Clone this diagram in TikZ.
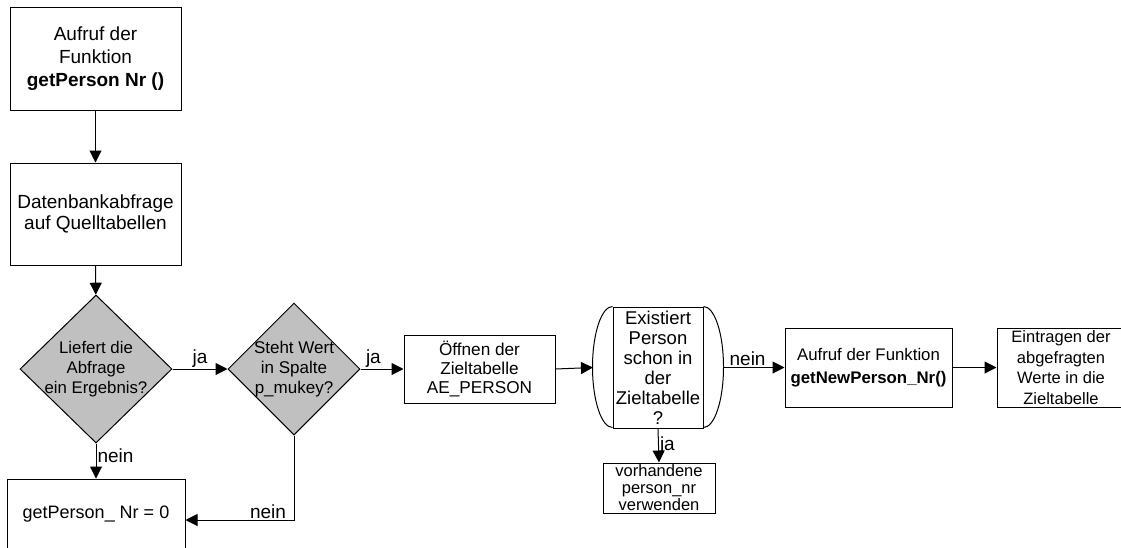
\documentclass[tikz,border=0pt]{standalone}
\usepackage{fontspec}
\setmainfont{Liberation Sans}
\usetikzlibrary{arrows.meta,shapes.geometric}
\definecolor{decgray}{RGB}{192,192,192}
\tikzset{
  base/.style={draw=black, line width=1pt, inner sep=0pt, align=center},
  box/.style={base, rectangle},
  dec/.style={base, diamond, fill=decgray},
  arr/.style={-{Triangle[length=12pt,width=12pt]}, line width=1pt},
  lbl/.style={font=\fontsize{19}{22}\selectfont, inner sep=1pt}
}
\begin{document}
\begin{tikzpicture}[x=1pt,y=-1pt]
\useasboundingbox (0,0) rectangle (1121,547);
\clip (0,0) rectangle (1121,547);
\node[box, minimum width=171pt, minimum height=103pt, font=\fontsize{19}{23}\selectfont] (start) at (95.5,58.5) {Aufruf der\\Funktion\\\textbf{getPerson Nr ()}};
\node[box, minimum width=171pt, minimum height=102pt, font=\fontsize{19}{21}\selectfont] (query) at (95.5,214) {Datenbankabfrage\\auf Quelltabellen};
\node[dec, minimum width=152pt, minimum height=148pt, label={[align=center, font=\fontsize{16.8}{20}\selectfont]center:Liefert die\\Abfrage\\ein Ergebnis?}] (d1) at (96,369) {};
\node[dec, minimum width=132pt, minimum height=132pt, label={[align=center, font=\fontsize{17}{20}\selectfont]center:Steht Wert\\in Spalte\\p\_mukey?}] (d2) at (294,369) {};
\node[box, minimum width=178pt, minimum height=82pt, label={[font=\fontsize{18}{21}\selectfont, yshift=6pt]center:getPerson\_ Nr = 0}] (zero) at (96,520) {};
\node[box, minimum width=151pt, minimum height=68pt, font=\fontsize{17.2}{19}\selectfont] (oeff) at (479.5,369) {Öffnen der\\Zieltabelle\\AE\_PERSON};
\node[box, minimum width=90pt, minimum height=121pt, font=\fontsize{18.5}{20}\selectfont] (cyl) at (658,367.5) {Existiert\\Person\\schon in\\der\\Zieltabelle\\?};
\draw[line width=1pt] (cyl.north west) arc[start angle=90, end angle=270, x radius=20pt, y radius=60.5pt];
\draw[line width=1pt] (cyl.north east) arc[start angle=90, end angle=-90, x radius=20pt, y radius=60.5pt];
\coordinate (cylL) at (593,367.5);
\coordinate (cylR) at (723,367.5);
\node[box, minimum width=112pt, minimum height=50pt, font=\fontsize{16.5}{17}\selectfont] (vorh) at (659,488) {vorhandene\\person\_nr\\verwenden};
\node[box, minimum width=167pt, minimum height=79pt, font=\fontsize{16.8}{23}\selectfont] (auf) at (868.5,367.5) {Aufruf der Funktion\\\textbf{getNewPerson\_Nr()}};
\node[box, minimum width=143pt, minimum height=79pt, label={[align=center, font=\fontsize{16.5}{20.5}\selectfont, xshift=-7.5pt]center:Eintragen der\\abgefragten\\Werte in die\\Zieltabelle}] (ein) at (1068.5,367.5) {};
\draw[arr] (start) -- (query);
\draw[arr] (query) -- (d1);
\draw[arr] (d1.east) -- node[lbl, above]{ja} (d2.west);
\draw[arr] (d2.east) -- node[lbl, above, pos=0.3]{ja} (oeff.west);
\draw[arr] (d1.south) -- node[lbl, right, pos=0.35]{nein} (zero.north);
\draw[arr] (d2.south) |- node[lbl, above, pos=0.62]{nein} (zero.east);
\draw[arr] (oeff.east) -- (cylL);
\draw[arr] (cylR) -- node[lbl, above, pos=0.4]{nein} (auf.west);
\draw[arr] (cyl.south) -- node[lbl, right]{ja} (vorh.north);
\draw[arr] (auf.east) -- (ein.west);
\end{tikzpicture}
\end{document}
